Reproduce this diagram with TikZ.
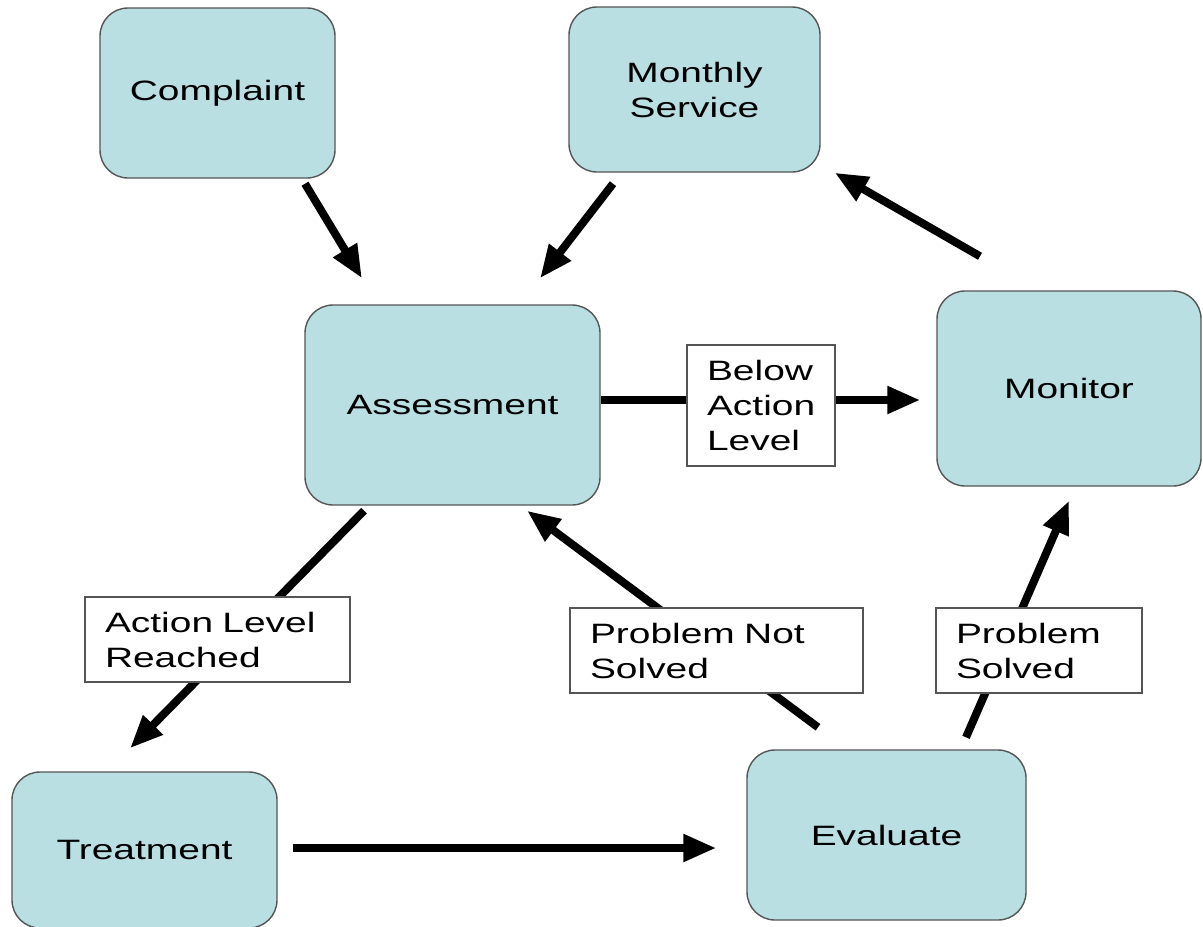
\documentclass[tikz,border=0pt]{standalone}
\usepackage{fontspec}
\setmainfont{Liberation Sans}[FakeStretch=1.39]
\usetikzlibrary{arrows.meta}
\definecolor{boxblue}{RGB}{185,223,227}
\definecolor{boxline}{RGB}{85,85,85}

\begin{document}
\begin{tikzpicture}[x=0.5pt, y=-0.5pt,
    >={Triangle[length=16.5pt,width=13pt]},
    every node/.style={font=\fontsize{14}{17.5}\selectfont},
    stage/.style={draw=boxline, line width=0.7pt, fill=boxblue, rounded corners=14pt, inner sep=0pt, align=center},
    tag/.style={draw=boxline, line width=0.6pt, fill=white, inner xsep=10pt, inner ysep=0pt, align=left},
    flow/.style={->, line width=4pt}]
      \useasboundingbox (0,0) rectangle (1203,926);
      \node[stage, minimum width=117.5pt, minimum height=85pt] (C) at (217.5,93) {Complaint};
      \node[stage, minimum width=125.5pt, minimum height=82.5pt] (MS) at (694.5,89.5) {Monthly\\Service};
      \node[stage, minimum width=147.5pt, minimum height=100pt] (A) at (452.5,405) {Assessment};
      \node[stage, minimum width=132pt, minimum height=97.5pt] (M) at (1069,388.5) {Monitor};
      \node[stage, minimum width=132.5pt, minimum height=78pt] (T) at (144.5,850) {Treatment};
      \node[stage, minimum width=139.5pt, minimum height=85pt] (E) at (886.5,835) {Evaluate};
      \draw [flow] ([shift={(87.5,5)}]C.south) -- ([shift={(-90.5,-26)}]A.north);
      \draw [flow] ([shift={(-81.5,11)}]MS.south) -- ([shift={(87.5,-26)}]A.north);
      \draw [flow] ([shift={(-89,-34)}]M.north) -- ([shift={(14,0)}]MS.south east);
      \draw [flow] ([shift={(0,-5)}]A.east) -- ([shift={(-16,11.5)}]M.west);
      \draw [flow] ([shift={(-88.5,5)}]A.south) -- ([shift={(-14.5,-23)}]T.north);
      \draw [flow] ([shift={(15,-2)}]T.east) -- ([shift={(-30,13)}]E.west);
      \draw [flow] ([shift={(-68.5,-22)}]E.north) -- ([shift={(74.5,5)}]A.south);
      \draw [flow] ([shift={(79.5,-12)}]E.north) -- ([shift={(0,14)}]M.south);
      \node[tag, text width=54pt, minimum height=60.5pt] (BAL) at (761,405.5) {Below\\Action\\Level};
      \node[tag, text width=112.5pt, minimum height=42.5pt] (ALR) at (217.5,639.5) {Action Level\\Reached};
      \node[tag, text width=126.5pt, minimum height=42.5pt] (PNS) at (716.5,650.5) {Problem Not\\Solved};
      \node[tag, text width=83pt, minimum height=42.5pt] (PS) at (1039,650.5) {Problem\\Solved};
    \end{tikzpicture}
\end{document}
